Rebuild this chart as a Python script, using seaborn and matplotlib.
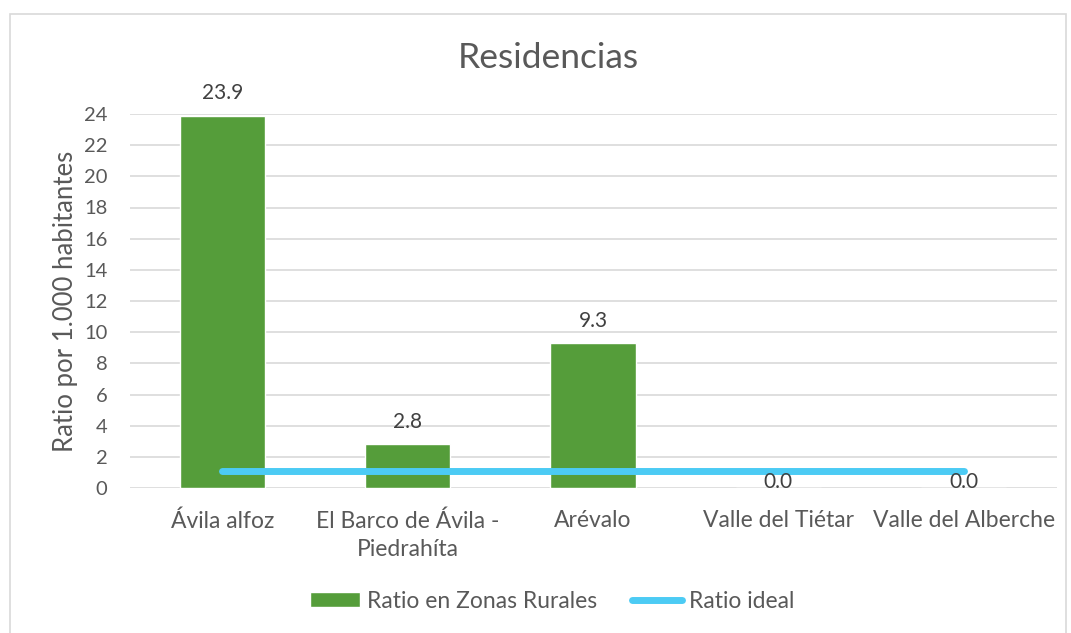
import numpy as np
import pandas as pd
import matplotlib.pyplot as plt
import seaborn as sns
from matplotlib.patches import Rectangle

zonas = ['Ávila alfoz', 'El Barco de Ávila -\nPiedrahíta', 'Arévalo',
         'Valle del Tiétar', 'Valle del Alberche']
ratio_rural = [23.9, 2.8, 9.3, 0.0, 0.0]
ratio_ideal = [1.1, 1.1, 1.1, 1.1, 1.1]

verde = '#559D3A'
azul = '#4CCBF4'
gris = '#595959'

sns.set_theme(style='white')
plt.rcParams['font.family'] = ['Lato', 'DejaVu Sans']

df = pd.DataFrame({'zona': zonas, 'ratio': ratio_rural})

fig = plt.figure(figsize=(10.71, 6.33), dpi=100)
ax = fig.add_axes([129.5 / 1071, 1 - 488 / 633, 927 / 1071, 374 / 633])

sns.barplot(data=df, x='zona', y='ratio', color=verde, width=0.46,
            saturation=1, ax=ax, zorder=2)
linea, = ax.plot(np.arange(len(zonas)), ratio_ideal, color=azul, lw=5,
                 solid_capstyle='round', zorder=3)

# etiquetas de datos
for i, v in enumerate(ratio_rural):
    off = 9 if v > 0 else -3
    ax.annotate(f'{v:.1f}', (i, v), xytext=(0, off), textcoords='offset points',
                ha='center', va='bottom', fontsize=15, color='#404040', zorder=4)

ax.set_ylim(0, 24)
ax.set_xlim(-0.5, len(zonas) - 0.5)
ax.set_yticks(range(0, 25, 2))
ax.yaxis.grid(True, color='#D9D9D9', lw=1.2, zorder=0)
ax.set_axisbelow(True)
for s in ax.spines.values():
    s.set_visible(False)
ax.tick_params(axis='both', length=0, labelcolor=gris)
ax.tick_params(axis='y', labelsize=14.5, pad=16)
ax.tick_params(axis='x', labelsize=16.5, pad=16)
for t in ax.get_xticklabels():
    t.set_linespacing(1.45)
ax.set_xlabel('')
ax.set_ylabel('Ratio por 1.000 habitantes', fontsize=18.5, color=gris, labelpad=4)

fig.text(548 / 1071, 1 - 58 / 633, 'Residencias', ha='center', va='center',
         fontsize=25.5, color=gris)

fig.legend([ax.containers[0], linea], ['Ratio en Zonas Rurales', 'Ratio ideal'],
           loc='center', bbox_to_anchor=(552 / 1071, 1 - 601 / 633),
           ncol=2, frameon=False, fontsize=16.5, labelcolor=gris,
           handlelength=2.2, handleheight=0.6, handletextpad=0.3, columnspacing=1.5)

fig.patches.append(Rectangle((10 / 1071, -0.01), 1056 / 1071, 1 - 14 / 633 + 0.01,
                             transform=fig.transFigure, fill=False,
                             edgecolor='#D9D9D9', lw=1.2))

fig.savefig('out.png', dpi=100, facecolor='white')
